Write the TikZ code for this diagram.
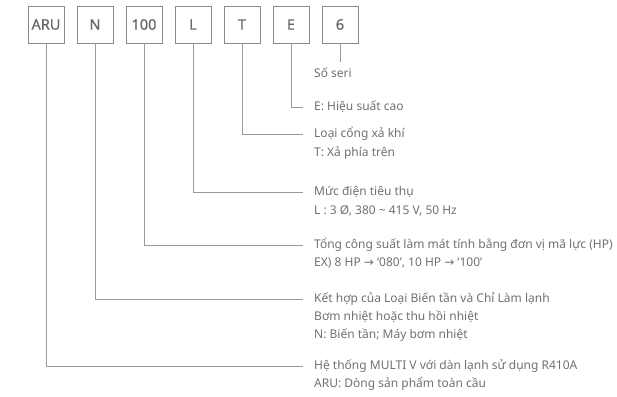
\documentclass[tikz,border=0pt]{standalone}
\usepackage{fontspec}
\setmainfont{Noto Sans}
\newfontfamily\boxfont{Noto Sans}[FakeBold=0.6]
\newfontfamily\arrowfont{DejaVu Sans}
\definecolor{boxc}{HTML}{8A8A8A}
\definecolor{codec}{HTML}{666666}
\definecolor{txtc}{HTML}{707070}
\definecolor{linec}{HTML}{9A9A9A}
\begin{document}
\begin{tikzpicture}[x=1pt,y=-1pt,
  codebox/.style={draw=boxc, line width=0.8pt, minimum width=36pt, minimum height=37pt, inner sep=0pt, font=\fontsize{14.5}{16}\boxfont, text=codec},
  desc/.style={anchor=west, inner sep=0pt, font=\fontsize{12}{14}\selectfont, text=txtc},
  link/.style={draw=linec, line width=0.8pt, shorten >=11pt}]
\useasboundingbox (0,0) rectangle (617,396);
\node[codebox] (bARU) at (46,24.5) {ARU};
\node[codebox] (bN) at (95,24.5) {N};
\node[codebox] (b100) at (144,24.5) {100};
\node[codebox] (bL) at (193,24.5) {L};
\node[codebox] (bT) at (242,24.5) {T};
\node[codebox] (bE) at (291,24.5) {E};
\node[codebox] (b6) at (340,24.5) {6};
\node[desc] (dS) at (314,73) {Số seri};
\node[desc] (dE) at (314,107) {E: Hiệu suất cao};
\node[desc] (dT) at (314,134) {Loại cổng xả khí};
\node[desc] (dT2) at (314,153) {T: Xả phía trên};
\node[desc] (dL) at (314,192) {Mức điện tiêu thụ};
\node[desc] (dL2) at (314,211) {L : 3 Ø, 380 {\char"007E} 415 V, 50 Hz};
\node[desc] (d100) at (314,245) {Tổng công suất làm mát tính bằng đơn vị mã lực (HP)};
\node[desc] (d1002) at (314,263) {EX) 8 HP {\arrowfont →} ‘080’, 10 HP {\arrowfont →} ‘100’};
\node[desc] (dN) at (314,299) {Kết hợp của Loại Biến tần và Chỉ Làm lạnh};
\node[desc] (dN2) at (314,317) {Bơm nhiệt hoặc thu hồi nhiệt};
\node[desc] (dN3) at (314,335) {N: Biến tần; Máy bơm nhiệt};
\node[desc] (dA) at (314,366) {Hệ thống MULTI V với dàn lạnh sử dụng R410A};
\node[desc] (dA2) at (314,384) {ARU: Dòng sản phẩm toàn cầu};
\coordinate (c6) at (340,62);
\draw[draw=linec, line width=0.8pt] (b6.south) -- (c6);
\draw[link] (bE.south) |- (dE.west);
\draw[link] (bT.south) |- (dT.west);
\draw[link] (bL.south) |- (dL.west);
\draw[link] (b100.south) |- (d100.west);
\draw[link] (bN.south) |- (dN.west);
\draw[link] (bARU.south) |- (dA.west);
\end{tikzpicture}
\end{document}
